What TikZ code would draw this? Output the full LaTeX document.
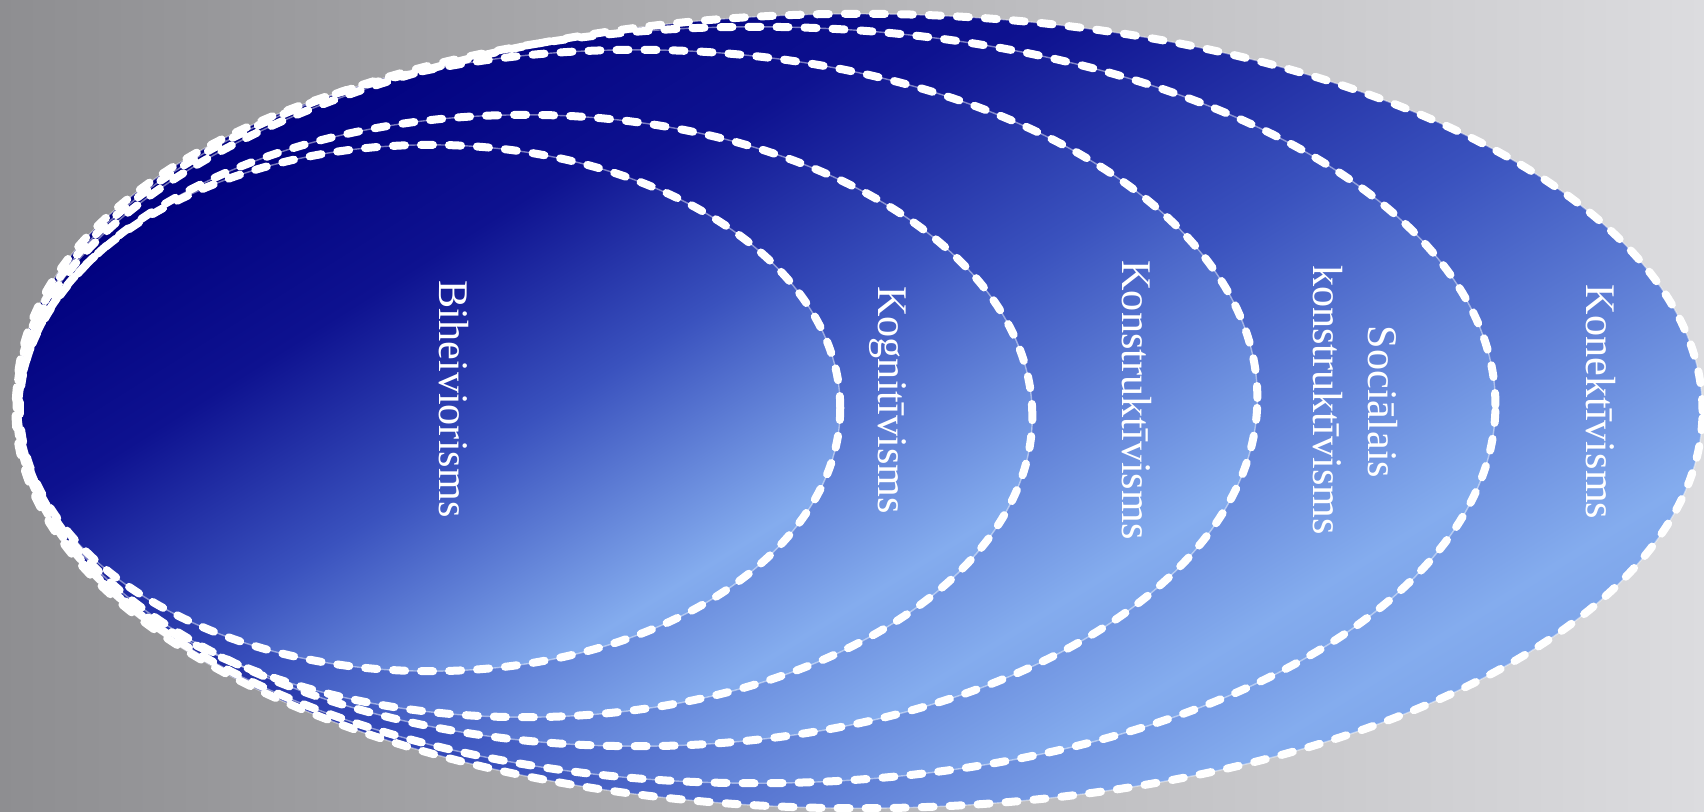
\documentclass[tikz,border=0pt]{standalone}
\usepackage{fontspec}
\setmainfont{Liberation Serif}
\definecolor{bgL}{HTML}{8E8E91}
\definecolor{bgR}{HTML}{DCDCDF}
\definecolor{navyc}{HTML}{00007E}
\definecolor{navyb}{HTML}{0E1290}
\definecolor{midc}{HTML}{3A52BE}
\definecolor{lightc}{HTML}{84ACEE}
\definecolor{lowc}{HTML}{7096E2}
\pgfdeclareverticalshading{ellshade}{100bp}{color(0bp)=(lowc); color(18bp)=(lowc); color(28bp)=(lightc); color(45bp)=(midc); color(60bp)=(navyb); color(75bp)=(navyc); color(100bp)=(navyc)}
\begin{document}
\begin{tikzpicture}[x=0.01cm,y=-0.01cm,
  ellfill/.style={shading=ellshade, shading angle=32},
  ellborder/.style={draw=white, line width=0.08cm, dash pattern=on 0.12cm off 0.16cm, line cap=round},
  hairline/.style={draw=white, draw opacity=0.45, line width=0.4pt},
  lbl/.style={text=white, font=\fontsize{12}{14}\selectfont, rotate=-90, anchor=base, inner sep=0pt}]
\useasboundingbox (0,0) rectangle (1704,811);
\shade[left color=bgL, right color=bgR] (0,0) rectangle (1704,811);
% fills, outer to inner
\shade[ellfill] (859,411) ellipse [x radius=8.43cm, y radius=3.97cm];
\shade[ellfill] (756,405) ellipse [x radius=7.39cm, y radius=3.78cm];
\shade[ellfill] (637,398) ellipse [x radius=6.20cm, y radius=3.48cm];
\shade[ellfill] (525,416) ellipse [x radius=5.07cm, y radius=3.01cm];
\shade[ellfill] (430,408) ellipse [x radius=4.10cm, y radius=2.63cm];
% borders
\foreach \cx/\cy/\rx/\ry in {859/411/8.43cm/3.97cm, 756/405/7.39cm/3.78cm, 637/398/6.20cm/3.48cm, 525/416/5.07cm/3.01cm, 430/408/4.10cm/2.63cm}{
  \draw[hairline] (\cx,\cy) ellipse [x radius=\rx, y radius=\ry];
  \draw[ellborder] (\cx,\cy) ellipse [x radius=\rx, y radius=\ry];
}
% labels
\node[lbl] (bih) at (439,399) {Biheiviorisms};
\node[lbl] (kog) at (878,400) {Kognitīvisms};
\node[lbl] (kon) at (1122,400) {Konstruktīvisms};
\node[lbl] (soca) at (1368,402) {Sociālais};
\node[lbl] (socb) at (1313,400) {konstruktīvisms};
\node[lbl] (konek) at (1586,402) {Konektīvisms};
\end{tikzpicture}
\end{document}
